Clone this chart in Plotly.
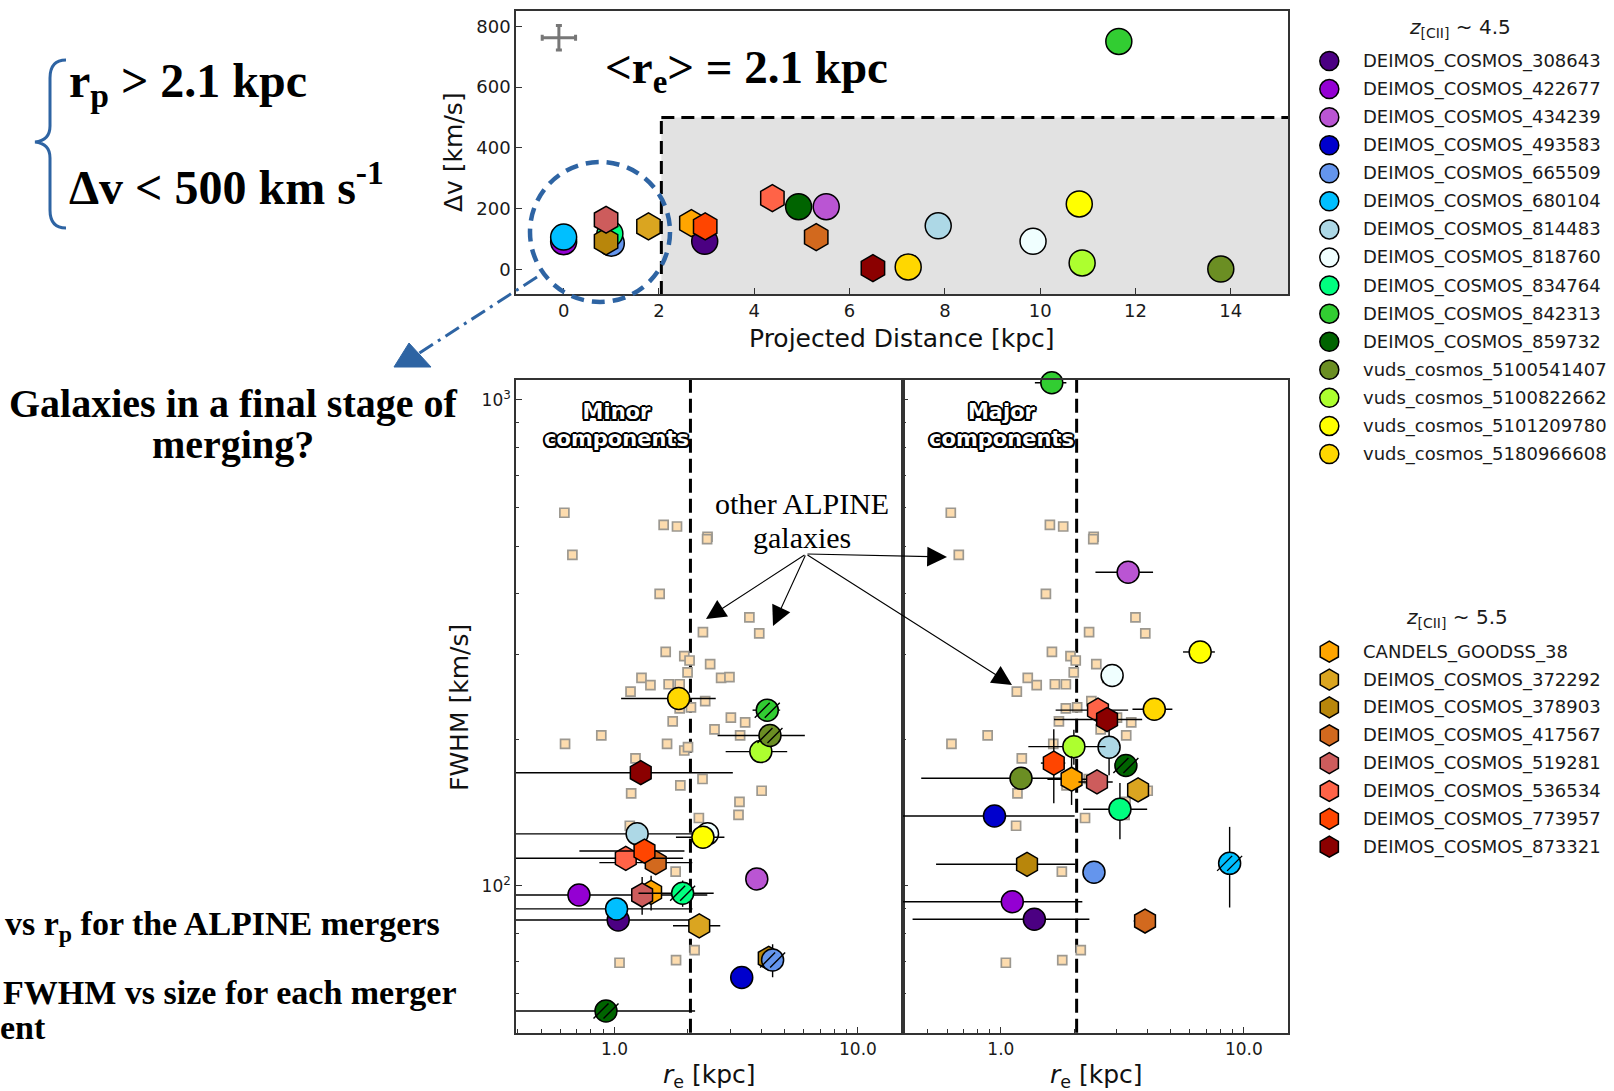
import plotly.graph_objects as go
import math

W, H = 1614, 1091

# ---------------- galaxies ----------------
names_z45 = ["DEIMOS_COSMOS_308643", "DEIMOS_COSMOS_422677", "DEIMOS_COSMOS_434239",
             "DEIMOS_COSMOS_493583", "DEIMOS_COSMOS_665509", "DEIMOS_COSMOS_680104",
             "DEIMOS_COSMOS_814483", "DEIMOS_COSMOS_818760", "DEIMOS_COSMOS_834764",
             "DEIMOS_COSMOS_842313", "DEIMOS_COSMOS_859732", "vuds_cosmos_5100541407",
             "vuds_cosmos_5100822662", "vuds_cosmos_5101209780", "vuds_cosmos_5180966608"]
colors_z45 = ["#4b0082", "#9400d3", "#ba55d3", "#0000cd", "#6495ed", "#00bfff", "#add8e6",
              "#f0ffff", "#00ff7f", "#32cd32", "#006400", "#6b8e23", "#adff2f", "#ffff00", "#ffd700"]
names_z55 = ["CANDELS_GOODSS_38", "DEIMOS_COSMOS_372292", "DEIMOS_COSMOS_378903",
             "DEIMOS_COSMOS_417567", "DEIMOS_COSMOS_519281", "DEIMOS_COSMOS_536534",
             "DEIMOS_COSMOS_773957", "DEIMOS_COSMOS_873321"]
colors_z55 = ["#ffa500", "#daa520", "#b8860b", "#d2691e", "#cd5c5c", "#ff6347", "#ff4500", "#8b0000"]

# top panel: projected distance [kpc] and delta v [km/s]
rp_z45 = [2.96, 0.0, 5.51, 0.95, 1.0, 0.0, 7.86, 9.85, 0.97, 11.65, 4.93, 13.79, 10.88, 10.82, 7.23]
dv_z45 = [93, 92, 207, 100, 87, 107, 144, 93, 118, 750, 207, 2, 22, 216, 9]
rp_z55 = [2.68, 1.78, 0.89, 5.30, 0.89, 4.38, 2.97, 6.49]
dv_z55 = [153, 142, 93, 107, 164, 235, 142, 5]

# minor components
minor_re_z45 = [1.035, 0.714, 3.84, 3.33, 4.46, 1.019, 1.238, 2.41, 1.904, 4.24, 0.922, 4.35, 3.99, 2.307, 1.834]
minor_fwhm_z45 = [85.1, 95.8, 103.4, 64.8, 70.4, 89.7, 128, 128, 96.6, 230, 55.3, 204, 189, 126, 243]
minor_re_err_z45 = [1.06, 1.69, 0, 0, 0, 1.07, 0.94, 0, 0.65, 0.55, 1.22, 1.7, 1.13, 0.52, 0.77]
minor_fwhm_err_z45 = [0, 0, 0, 0, 5.5, 0, 4, 0, 6, 0, 0, 0, 0, 0, 0]
minor_hatch_z45 = [False, False, False, False, True, False, False, False, True, True, True, True, False, False, False]
minor_re_z55 = [1.413, 2.228, 4.3, 1.476, 1.298, 1.112, 1.327, 1.281]
minor_fwhm_z55 = [97, 82.8, 71, 111.7, 95.8, 114, 118, 171]
minor_re_err_z55 = [0, 0.49, 0, 0.61, 0, 0.80, 0.61, 1.78]
minor_fwhm_err_z55 = [8, 0, 0, 0, 8.5, 0, 0, 0]

# major components
major_re_z45 = [1.373, 1.114, 3.34, 0.941, 2.416, 8.74, 2.788, 2.87, 3.09, 1.62, 3.27, 1.21, 1.997, 6.61, 4.28]
major_fwhm_z45 = [85.4, 92.8, 442, 139.3, 106.7, 111.3, 193, 271, 143.8, 1085, 177, 166.6, 193.5, 303, 231]
major_re_err_z45 = [0.94, 1.05, 0.89, 1.07, 0, 0, 0.25, 0, 0.91, 0.24, 0, 0.74, 0.7, 0.99, 0.8]
major_fwhm_err_z45 = [0, 0, 0, 0, 0, 21, 24, 0, 19, 0, 0, 0, 16, 0, 0]
major_hatch_z45 = [False, False, False, False, False, True, False, False, False, False, True, False, False, False, False]
major_re_z55 = [1.954, 3.67, 1.281, 3.92, 2.486, 2.51, 1.651, 2.735]
major_fwhm_z55 = [165.8, 157.6, 110.8, 84.7, 163.7, 230, 179, 220]
major_re_err_z55 = [0.4, 0, 0.74, 0.4, 0.4, 0.83, 0.19, 1.08]
major_fwhm_err_z55 = [19, 5, 5, 0, 0, 0, 31, 0]

# other ALPINE galaxies (same sample in both panels)
other_re = [0.622, 0.671, 1.591, 1.805, 2.41, 2.40, 1.532, 2.307, 3.58, 3.93, 1.622, 1.934, 2.033,
            2.47, 1.995, 1.29, 1.404, 1.668, 1.851, 2.74, 2.965, 1.163, 2.357, 1.851, 2.06, 1.733,
            3.005, 3.44, 2.574, 0.626, 0.882, 1.643, 1.934, 2.003, 3.28, 1.219, 2.298, 1.863, 4.02,
            1.17, 3.26, 3.23, 2.22, 1.155, 1.782, 2.132, 1.789, 1.048]
other_fwhm = [586, 480, 553, 549, 523, 517, 399, 333, 357, 331, 303, 297, 291, 286, 275, 268, 259,
              260, 260, 268, 269, 251, 240, 232, 233, 218, 222, 217, 210, 196, 204, 196, 190, 193,
              204, 183, 166, 161, 157, 155, 149, 140, 138, 133, 107, 73.8, 70.4, 69.5]

RP_CUT = 2.05     # kpc
DV_CUT = 500      # km/s
RE_CUT = 2.05     # kpc
TYP_ERR = dict(x=-0.1, y=762, ex=0.35, ey=40)

# ---------------- layout geometry (pixels) ----------------
TOP = dict(l=516, r=1288, t=11, b=294)
BL = dict(l=516, r=902.5, t=380, b=1032.7)
BR = dict(l=902.5, r=1288.3, t=380, b=1032.7)
LOGX = [-0.405, 1.183]
LOGY = [math.log10(49.9), math.log10(1099)]


def px(x):
    return x / W


def py(y):
    return 1 - y / H


fig = go.Figure()


def add_gal(xa, ya, x, y, color, symbol, size, ex=0, ey=0, lw=1.5):
    kw = {}
    if ex:
        kw["error_x"] = dict(type="data", array=[ex], color="black", thickness=1.4, width=0)
    if ey:
        kw["error_y"] = dict(type="data", array=[ey], color="black", thickness=1.4, width=0)
    fig.add_trace(go.Scatter(x=[x], y=[y], xaxis=xa, yaxis=ya, mode="markers",
                             marker=dict(symbol=symbol, size=size, color=color,
                                         line=dict(color="black", width=lw)),
                             cliponaxis=False, hoverinfo="skip", showlegend=False, **kw))


# ---------------- top panel ----------------
fig.add_trace(go.Scatter(x=[TYP_ERR["x"]], y=[TYP_ERR["y"]], xaxis="x", yaxis="y", mode="markers",
                         marker=dict(size=2, color="#777"),
                         error_x=dict(type="data", array=[TYP_ERR["ex"]], color="#777", thickness=3, width=3),
                         error_y=dict(type="data", array=[TYP_ERR["ey"]], color="#777", thickness=3, width=3),
                         hoverinfo="skip", showlegend=False))

for i in range(len(names_z45)):
    add_gal("x", "y", rp_z45[i], dv_z45[i], colors_z45[i], "circle", 26)
for i in range(len(names_z55)):
    add_gal("x", "y", rp_z55[i], dv_z55[i], colors_z55[i], "hexagon", 27)

# ---------------- bottom panels ----------------
for xa, ya in [("x2", "y2"), ("x3", "y3")]:
    fig.add_trace(go.Scatter(x=other_re, y=other_fwhm, xaxis=xa, yaxis=ya, mode="markers",
                             marker=dict(symbol="square", size=9, color="#fddcae",
                                         line=dict(color="#9c9890", width=1.7)),
                             cliponaxis=False, hoverinfo="skip", showlegend=False))


def add_panel(xa, ya, dom, re45, fw45, ere45, efw45, h45, re55, fw55, ere55, efw55):
    dec_per_px = (LOGX[1] - LOGX[0]) / (dom["r"] - dom["l"])
    fac = 10 ** (5.0 * dec_per_px)
    for i in range(len(re45)):
        if not h45[i]:
            add_gal(xa, ya, re45[i], fw45[i], colors_z45[i], "circle", 22, ere45[i], efw45[i])
    for i in range(len(re55)):
        add_gal(xa, ya, re55[i], fw55[i], colors_z55[i], "hexagon", 24, ere55[i], efw55[i])
    for i in range(len(re45)):
        if h45[i]:
            add_gal(xa, ya, re45[i], fw45[i], colors_z45[i], "circle", 22, ere45[i], efw45[i])
            hx = [re45[i] * fac, re45[i] / fac]
            fig.add_trace(go.Scatter(x=hx, y=[fw45[i]] * 2, xaxis=xa, yaxis=ya, mode="markers",
                                     marker=dict(symbol="line-ne", size=15,
                                                 line=dict(color="black", width=1.4)),
                                     cliponaxis=False, hoverinfo="skip", showlegend=False))


add_panel("x2", "y2", BL, minor_re_z45, minor_fwhm_z45, minor_re_err_z45, minor_fwhm_err_z45,
          minor_hatch_z45, minor_re_z55, minor_fwhm_z55, minor_re_err_z55, minor_fwhm_err_z55)
add_panel("x3", "y3", BR, major_re_z45, major_fwhm_z45, major_re_err_z45, major_fwhm_err_z45,
          major_hatch_z45, major_re_z55, major_fwhm_z55, major_re_err_z55, major_fwhm_err_z55)

# ---------------- legends (drawn on a pixel canvas) ----------------
LEG_X = 1329.3
LEG1_Y0, LEG1_DY = 61.0, 28.07
LEG2_Y0, LEG2_DY = 651.7, 27.86
fig.add_trace(go.Scatter(x=[LEG_X] * len(names_z45),
                         y=[LEG1_Y0 + i * LEG1_DY for i in range(len(names_z45))],
                         xaxis="x4", yaxis="y4", mode="markers",
                         marker=dict(symbol="circle", size=19, color=colors_z45,
                                     line=dict(color="black", width=1.5)),
                         hoverinfo="skip", showlegend=False))
fig.add_trace(go.Scatter(x=[LEG_X] * len(names_z55),
                         y=[LEG2_Y0 + i * LEG2_DY for i in range(len(names_z55))],
                         xaxis="x4", yaxis="y4", mode="markers",
                         marker=dict(symbol="hexagon", size=21, color=colors_z55,
                                     line=dict(color="black", width=1.5)),
                         hoverinfo="skip", showlegend=False))

SANS = "DejaVu Sans"
SERIF = "Liberation Serif"


def ann(text, x, y, size, family=SANS, xanchor="center", yanchor="middle", color="#111",
        textangle=0, shadow=None):
    font = dict(size=size, family=family, color=color)
    if shadow:
        font["shadow"] = shadow
    fig.add_annotation(text=text, x=px(x), y=py(y), xref="paper", yref="paper",
                       xanchor=xanchor, yanchor=yanchor, showarrow=False, font=font,
                       textangle=textangle)


for i, n in enumerate(names_z45):
    ann(n, 1361, LEG1_Y0 + i * LEG1_DY, 18, xanchor="left", color="#1a1a1a")
for i, n in enumerate(names_z55):
    ann(n, 1361, LEG2_Y0 + i * LEG2_DY, 18, xanchor="left", color="#1a1a1a")
ann("<i>z</i><sub>[CII]</sub> ~ 4.5", 1460, 28, 20, color="#1a1a1a")
ann("<i>z</i><sub>[CII]</sub> ~ 5.5", 1457, 618, 20, color="#1a1a1a")

# ---------------- axis titles ----------------
ann("Projected Distance [kpc]", 902, 338, 25)
ann("Δv [km/s]", 454, 152, 25, textangle=-90)
ann("FWHM [km/s]", 459, 708, 25, textangle=-90)
ann("<i>r</i><sub>e</sub> [kpc]", 709, 1076, 25)
ann("<i>r</i><sub>e</sub> [kpc]", 1096, 1076, 25)

# ---------------- in-plot texts ----------------
ann("<b>&lt;r<sub>e</sub>&gt; = 2.1 kpc</b>", 603, 70, 47, family=SERIF, xanchor="left", color="#000")
outline = ("2px 0 0 #000, -2px 0 0 #000, 0 2px 0 #000, 0 -2px 0 #000, "
           "1.5px 1.5px 0 #000, -1.5px -1.5px 0 #000, 1.5px -1.5px 0 #000, -1.5px 1.5px 0 #000")
ann("<b>Minor</b><br><b>components</b>", 616.7, 425, 21, color="#fff", shadow=outline)
ann("<b>Major</b><br><b>components</b>", 1001.7, 425, 21, color="#fff", shadow=outline)
ann("other ALPINE", 802, 504, 30, family=SERIF, color="#000")
ann("galaxies", 802, 537, 30, family=SERIF, color="#000")

TAIL = (806, 554)
for tx, ty in [(706, 619), (773, 626), (947, 557), (1012, 685)]:
    fig.add_annotation(x=px(tx), y=py(ty), xref="paper", yref="paper", text="",
                       ax=TAIL[0] - tx, ay=TAIL[1] - ty, axref="pixel", ayref="pixel",
                       showarrow=True, arrowhead=2, arrowsize=3.6, arrowwidth=1.1,
                       arrowcolor="black", standoff=0)

# ---------------- left-side texts ----------------
ann("<b>r<sub>p</sub> &gt; 2.1 kpc</b>", 67, 84, 48, family=SERIF, xanchor="left", color="#000")
ann("<b>Δv &lt; 500 km s<sup>-1</sup></b>", 67, 184, 48, family=SERIF, xanchor="left", color="#000")
ann("<b>Galaxies in a final stage of</b>", 233, 403, 40, family=SERIF, color="#000")
ann("<b>merging?</b>", 233, 445, 40, family=SERIF, color="#000")
ann("<b>vs r<sub>p</sub> for the ALPINE mergers</b>", 3, 926, 34, family=SERIF, xanchor="left", color="#000")
ann("<b>FWHM vs size for each merger</b>", 1, 993, 34, family=SERIF, xanchor="left", color="#000")
ann("<b>ent</b>", -2, 1027, 34, family=SERIF, xanchor="left", color="#000")

# ---------------- shapes ----------------
BLUE = "#2e64a3"
shapes = []
shapes.append(dict(type="rect", xref="x", yref="y", x0=RP_CUT, x1=15.2, y0=-80, y1=DV_CUT,
                   fillcolor="#e2e2e2", line=dict(width=0), layer="below"))
shapes.append(dict(type="line", xref="x", yref="y", x0=RP_CUT, x1=RP_CUT, y0=-80, y1=DV_CUT,
                   line=dict(color="black", width=3, dash="13px,7px"), layer="below"))
shapes.append(dict(type="line", xref="x", yref="y", x0=RP_CUT, x1=15.2, y0=DV_CUT, y1=DV_CUT,
                   line=dict(color="black", width=3, dash="13px,7px"), layer="below"))
for xr in ["x2", "x3"]:
    shapes.append(dict(type="line", xref=xr, yref=xr.replace("x", "y") + " domain",
                       x0=RE_CUT, x1=RE_CUT, y0=0, y1=1,
                       line=dict(color="black", width=3, dash="14px,6px"), layer="below"))

shapes.append(dict(type="circle", xref="paper", yref="paper",
                   x0=px(530), x1=px(670), y0=py(302), y1=py(162),
                   line=dict(color=BLUE, width=4.5, dash="13px,8px")))
shapes.append(dict(type="line", xref="paper", yref="paper",
                   x0=px(537), y0=py(277), x1=px(418), y1=py(354),
                   line=dict(color=BLUE, width=3, dash="16px,6px,3px,6px")))


def P(x, y):
    return f"{px(x):.5f},{py(y):.5f}"


shapes.append(dict(type="path", xref="paper", yref="paper",
                   path=f"M {P(394, 367)} L {P(431, 367)} L {P(409, 343)} Z",
                   fillcolor=BLUE, line=dict(color=BLUE, width=1)))
brace = (f"M {P(66, 60)} C {P(55, 60)} {P(50, 66)} {P(50, 78)} L {P(50, 126)} "
         f"C {P(50, 136)} {P(45, 141)} {P(35, 142)} C {P(45, 143)} {P(50, 148)} {P(50, 158)} "
         f"L {P(50, 210)} C {P(50, 222)} {P(55, 228)} {P(66, 228)}")
shapes.append(dict(type="path", xref="paper", yref="paper", path=brace,
                   line=dict(color=BLUE, width=3)))

# ---------------- axes ----------------
axline = dict(showline=True, mirror=True, linecolor="#333", linewidth=1.6, showgrid=False,
              zeroline=False, ticks="inside", tickcolor="#333", tickwidth=1.3, ticklen=6)
tickfont = dict(family=SANS, size=18, color="#1a1a1a")

minor_x = [0.4, 0.5, 0.6, 0.7, 0.8, 0.9, 2, 3, 4, 5, 6, 7, 8, 9]
minor_y = [50, 60, 70, 80, 90, 200, 300, 400, 500, 600, 700, 800, 900]

fig.update_layout(
    width=W, height=H, margin=dict(l=0, r=0, t=0, b=0),
    paper_bgcolor="white", plot_bgcolor="rgba(0,0,0,0)", showlegend=False,
    shapes=shapes,
    xaxis=dict(domain=[px(TOP["l"]), px(TOP["r"])], range=[-1.0, 15.2], anchor="y",
               tickmode="array", tickvals=list(range(0, 15, 2)), tickfont=tickfont, **axline),
    yaxis=dict(domain=[py(TOP["b"]), py(TOP["t"])], range=[-80, 850], anchor="x",
               tickmode="array", tickvals=[0, 200, 400, 600, 800], tickfont=tickfont, **axline),
    xaxis2=dict(domain=[px(BL["l"]), px(BL["r"])], type="log", range=LOGX, anchor="y2",
                tickmode="array", tickvals=[1, 10], ticktext=["1.0", "10.0"],
                tickfont=dict(family=SANS, size=17, color="#1a1a1a"),
                minor=dict(tickvals=minor_x, ticks="inside", ticklen=3.5, tickcolor="#333", tickwidth=1),
                **axline),
    yaxis2=dict(domain=[py(BL["b"]), py(BL["t"])], type="log", range=LOGY, anchor="x2",
                tickmode="array", tickvals=[100, 1000], ticktext=["10<sup>2</sup>", "10<sup>3</sup>"],
                tickfont=dict(family=SANS, size=17, color="#1a1a1a"),
                minor=dict(tickvals=minor_y, ticks="inside", ticklen=3.5, tickcolor="#333", tickwidth=1),
                **axline),
    xaxis3=dict(domain=[px(BR["l"]), px(BR["r"])], type="log", range=LOGX, anchor="y3",
                tickmode="array", tickvals=[1, 10], ticktext=["1.0", "10.0"],
                tickfont=dict(family=SANS, size=17, color="#1a1a1a"),
                minor=dict(tickvals=minor_x, ticks="inside", ticklen=3.5, tickcolor="#333", tickwidth=1),
                **axline),
    yaxis3=dict(domain=[py(BR["b"]), py(BR["t"])], type="log", range=LOGY, anchor="x3",
                tickmode="array", tickvals=[100, 1000], showticklabels=False,
                minor=dict(tickvals=minor_y, ticks="inside", ticklen=3.5, tickcolor="#333", tickwidth=1),
                **axline),
    xaxis4=dict(domain=[px(1290), 1], range=[1290, W], visible=False, anchor="y4"),
    yaxis4=dict(domain=[0, 1], range=[H, 0], visible=False, anchor="x4"),
)

fig.write_html("out.html")
